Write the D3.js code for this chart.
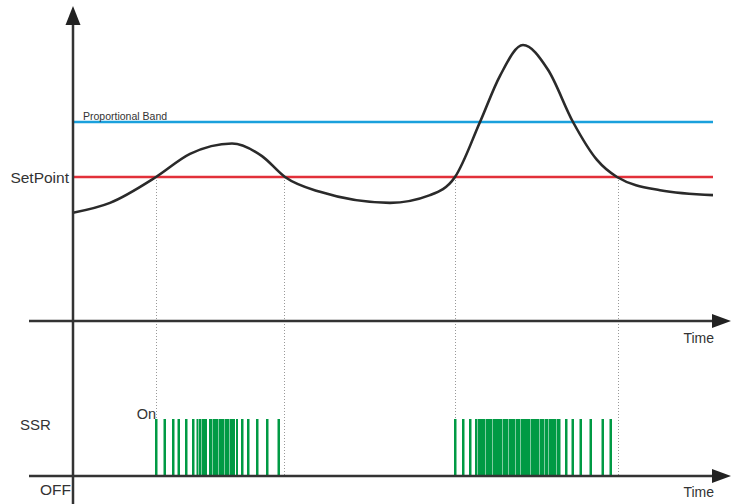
<!DOCTYPE html>
<meta charset="utf-8">
<style>
  body { margin: 0; background: #fff; }
  svg { display: block; font-family: "Liberation Sans", Arial, sans-serif; }
  .axis { stroke: #333; stroke-width: 2.5px; fill: none; }
  .arrow { fill: #222; }
  .guide { stroke: #999; stroke-width: 1px; stroke-dasharray: 1,2; }
  .lbl { fill: #333; }
</style>
<svg width="736" height="504"></svg>
<script src="https://cdn.jsdelivr.net/npm/d3@7"></script>
<script>

  // process value (time, temperature)
  var curveTime = [0, 37, 83, 117, 159, 189, 212, 247, 317, 357, 382, 407, 427, 450, 475, 500, 524, 544, 587, 640];
  var curveTemp = [93.5, 95.3, 100, 104.2, 106.1, 103.8, 100, 97.3, 95.3, 96.7, 100, 110, 118.4, 124, 119.5, 110, 103.1, 100, 97.6, 96.7];

  var setPoint = 100;
  var propBand = 110;

  // times where the process crosses the setpoint
  var crossings = [83, 211, 382, 545];

  // SSR on periods [on, off]
  var pulsesA = [[82,84.5],[90.5,93],[99,101.5],[104.5,107],[112,114.5],[119,121.5],[123.5,125.5],[126,128],[128.5,134],[136,139],[139.5,145],[145.5,151],[151.5,156],[156.5,162],[163,165],[168,170.5],[174,176.5],[183,185.5],[193,195.5],[204.5,207]];
  var pulsesB = [[381,383.5],[389,391.5],[396,398.5],[402,404],[404.5,412.5],[413,419.5],[420,429.5],[430,435.5],[436,442.5],[443,447],[447.5,457],[457.5,466.5],[467,471],[471.5,475],[475.5,483],[483.5,487.5],[492,494.5],[498.5,501],[506.5,509],[516.5,519],[528.5,531],[536.5,539]];

  var svg = d3.select("svg");

  var x = d3.scaleLinear().domain([0, 640]).range([73, 713]);
  var y = d3.scaleLinear().domain([74, 130]).range([320, 12]);
  var ySsr = d3.scaleLinear().domain([0, 1]).range([476, 419]);

  var topAxisY = y(74) + 1;
  var botAxisY = ySsr(0);

  // dotted guides
  svg.append("g").selectAll("line")
    .data(crossings)
    .enter().append("line")
    .attr("class", "guide")
    .attr("x1", function (d) { return x(d) + 0.5; })
    .attr("x2", function (d) { return x(d) + 0.5; })
    .attr("y1", y(setPoint))
    .attr("y2", botAxisY);

  // proportional band and setpoint
  svg.append("line")
    .attr("x1", x(0)).attr("x2", x(640))
    .attr("y1", y(propBand)).attr("y2", y(propBand))
    .attr("stroke", "#1aa0dc").attr("stroke-width", 2.5);
  svg.append("line")
    .attr("x1", x(0)).attr("x2", x(640))
    .attr("y1", y(setPoint)).attr("y2", y(setPoint))
    .attr("stroke", "#e2303a").attr("stroke-width", 2.5);

  // process curve
  var pts = curveTime.map(function (t, i) { return [t, curveTemp[i]]; });
  var line = d3.line()
    .x(function (d) { return x(d[0]); })
    .y(function (d) { return y(d[1]); })
    .curve(d3.curveMonotoneX);
  svg.append("path")
    .datum(pts)
    .attr("d", line)
    .attr("fill", "none")
    .attr("stroke", "#2a2a2a")
    .attr("stroke-width", 2.6);

  // SSR pulses
  svg.append("g").selectAll("rect")
    .data(pulsesA.concat(pulsesB))
    .enter().append("rect")
    .attr("x", function (d) { return x(d[0]); })
    .attr("width", function (d) { return x(d[1]) - x(d[0]); })
    .attr("y", ySsr(1))
    .attr("height", ySsr(0) - ySsr(1))
    .attr("fill", "#009a44");

  // axes
  svg.append("line").attr("class", "axis")
    .attr("x1", 73).attr("x2", 73).attr("y1", 20).attr("y2", 504);
  svg.append("line").attr("class", "axis")
    .attr("x1", 29).attr("x2", 716).attr("y1", topAxisY).attr("y2", topAxisY);
  svg.append("line").attr("class", "axis")
    .attr("x1", 29).attr("x2", 716).attr("y1", botAxisY).attr("y2", botAxisY);

  svg.append("path").attr("class", "arrow")
    .attr("d", "M73,6 L80.5,25 L65.5,25 Z");
  [topAxisY, botAxisY].forEach(function (yy) {
    svg.append("path").attr("class", "arrow")
      .attr("d", "M731," + yy + " L712," + (yy - 7) + " L712," + (yy + 7) + " Z");
  });

  // labels
  svg.append("text").attr("class", "lbl")
    .attr("x", 83).attr("y", y(propBand) - 2)
    .attr("font-size", 10.5).attr("fill", "#555")
    .text("Proportional Band");
  svg.append("text").attr("class", "lbl")
    .attr("x", 69).attr("y", y(setPoint) + 6).attr("text-anchor", "end")
    .attr("font-size", 15.5)
    .text("SetPoint");
  svg.append("text").attr("class", "lbl")
    .attr("x", 714).attr("y", topAxisY + 22).attr("text-anchor", "end")
    .attr("font-size", 14)
    .text("Time");
  svg.append("text").attr("class", "lbl")
    .attr("x", 714).attr("y", botAxisY + 21).attr("text-anchor", "end")
    .attr("font-size", 14)
    .text("Time");
  svg.append("text").attr("class", "lbl")
    .attr("x", 20).attr("y", 430)
    .attr("font-size", 15)
    .text("SSR");
  svg.append("text").attr("class", "lbl")
    .attr("x", 71).attr("y", 495).attr("text-anchor", "end")
    .attr("font-size", 15.5)
    .text("OFF");
  svg.append("text").attr("class", "lbl")
    .attr("x", 156).attr("y", 419).attr("text-anchor", "end")
    .attr("font-size", 14.5)
    .text("On");

</script>
